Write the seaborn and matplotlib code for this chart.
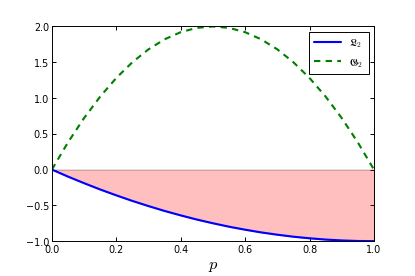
import matplotlib
matplotlib.use("Agg")
import matplotlib.pyplot as plt
import seaborn as sns
import pandas as pd

# values
p_vals = [0.0, 0.05, 0.1, 0.15, 0.2, 0.25, 0.3, 0.35, 0.4, 0.45, 0.5,
          0.55, 0.6, 0.65, 0.7, 0.75, 0.8, 0.85, 0.9, 0.95, 1.0]
l2_vals = [0.0, -0.098, -0.19, -0.278, -0.36, -0.438, -0.51, -0.578, -0.64, -0.698, -0.75,
           -0.798, -0.84, -0.878, -0.91, -0.938, -0.96, -0.978, -0.99, -0.998, -1.0]
g2_vals = [0.0, 0.38, 0.72, 1.02, 1.28, 1.5, 1.68, 1.82, 1.92, 1.98, 2.0,
           1.98, 1.92, 1.82, 1.68, 1.5, 1.28, 1.02, 0.72, 0.38, 0.0]
x_ticks = [0.0, 0.2, 0.4, 0.6, 0.8, 1.0]
y_ticks = [-1.0, -0.5, 0.0, 0.5, 1.0, 1.5, 2.0]

df = pd.DataFrame({"p": p_vals, "L2": l2_vals, "G2": g2_vals})

sns.set_style("ticks")
plt.rcParams["font.family"] = ["DejaVu Sans"]
plt.rcParams["mathtext.fontset"] = "cm"
plt.rcParams["xtick.direction"] = "in"
plt.rcParams["ytick.direction"] = "in"
plt.rcParams["text.color"] = "black"

fig, ax = plt.subplots(figsize=(6, 4), dpi=415 / 6)
fig.subplots_adjust(left=0.125, right=0.901, top=0.902, bottom=0.126)

ax.fill_between(df["p"], 0, df["L2"], facecolor=(1, 0, 0, 0.25),
                edgecolor=(0, 0, 0, 0.3), linewidth=1)
sns.lineplot(data=df, x="p", y="L2", ax=ax, color="blue", linewidth=2.2,
             label=r"$\mathfrak{L}_2$", sort=False)
sns.lineplot(data=df, x="p", y="G2", ax=ax, color="green", linewidth=2.2,
             linestyle=(0, (3, 2.5)), label=r"$\mathfrak{G}_2$", sort=False)

ax.set_xlim(0, 1)
ax.set_ylim(-1, 2)
ax.set_xticks(x_ticks)
ax.set_yticks(y_ticks)
ax.tick_params(top=True, right=True, labelsize=10, length=4, width=1, pad=3,
               colors="black")
for s in ax.spines.values():
    s.set_linewidth(1)
    s.set_color("black")
ax.set_xlabel(r"$p$", fontsize=17, color="black")
ax.set_ylabel("")

leg = ax.legend(loc="upper right", fontsize=11, fancybox=False, framealpha=1,
                edgecolor="black", handlelength=2.5, borderpad=0.5)
leg.get_frame().set_linewidth(1)

fig.savefig("out.png", dpi=415 / 6, facecolor="white")
